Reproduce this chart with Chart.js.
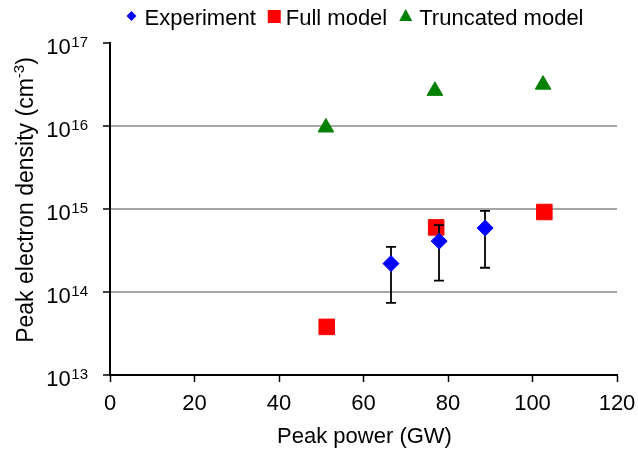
<!DOCTYPE html>
<html>
<head>
<meta charset="utf-8">
<script src="https://cdn.jsdelivr.net/npm/chart.js@4.4.0/dist/chart.umd.min.js"></script>
<style>
  html, body { margin: 0; padding: 0; background: #fff; }
</style>
</head>
<body>
<canvas id="densityChart" width="638" height="450"></canvas>
<script>
// values
const expPower = [66.5, 77.9, 88.8];
const expDensity = [2.2e14, 4.1e14, 5.9e14];
const expLow = [7.4e13, 1.37e14, 1.96e14];
const expHigh = [3.5e14, 6.4e14, 9.5e14];

const fullPower = [51.3, 77.2, 102.8];
const fullDensity = [3.8e13, 6.0e14, 9.2e14];

const truncPower = [51.1, 76.9, 102.5];
const truncDensity = [9.6e15, 2.65e16, 3.15e16];

const xTicks = [0, 20, 40, 60, 80, 100, 120];
const yExponents = [13, 14, 15, 16, 17];
const legendLabels = ["Experiment", "Full model", "Truncated model"];
const xTitle = "Peak power (GW)";

const FONT = "'Liberation Sans', Arial, sans-serif";

const toPoints = (xs, ys) => xs.map((v, i) => ({ x: v, y: ys[i] }));

const decor = {
  id: "decor",
  // error bars go between the model markers and the experiment diamonds
  afterDatasetDraw(chart, args) {
    if (args.index !== 1) return;
    const { ctx, scales: { x, y } } = chart;
    ctx.save();
    ctx.strokeStyle = "#000";
    ctx.lineWidth = 1.8;
    expPower.forEach((p, i) => {
      const px = Math.round(x.getPixelForValue(p));
      const top = y.getPixelForValue(expHigh[i]);
      const bot = y.getPixelForValue(expLow[i]);
      ctx.beginPath();
      ctx.moveTo(px, top); ctx.lineTo(px, bot);
      ctx.moveTo(px - 5, top); ctx.lineTo(px + 5, top);
      ctx.moveTo(px - 5, bot); ctx.lineTo(px + 5, bot);
      ctx.stroke();
    });
    ctx.restore();
  },
  afterDraw(chart) {
    const { ctx, chartArea, scales: { y } } = chart;
    ctx.save();
    ctx.fillStyle = "#000";
    ctx.textBaseline = "alphabetic";

    // y tick labels with superscript exponents
    yExponents.forEach((e) => {
      const py = y.getPixelForValue(Math.pow(10, e));
      ctx.font = "15px " + FONT;
      const sup = String(e);
      const supW = ctx.measureText(sup).width;
      const supX = 88 - supW;
      ctx.textAlign = "left";
      ctx.fillText(sup, supX, py + 4);
      ctx.font = "22px " + FONT;
      ctx.textAlign = "right";
      ctx.fillText("10", supX - 0.5, py + 11);
    });

    // x axis title
    ctx.font = "22px " + FONT;
    ctx.textAlign = "center";
    ctx.fillText(xTitle, (chartArea.left + chartArea.right) / 2 + 1, 443);

    // y axis title, rotated
    ctx.translate(33, 200);
    ctx.rotate(-Math.PI / 2);
    ctx.textAlign = "left";
    ctx.font = "23px " + FONT;
    const a = "Peak electron density (cm";
    const wa = ctx.measureText(a).width;
    ctx.font = "15px " + FONT;
    const s = "-3";
    const ws = ctx.measureText(s).width;
    ctx.font = "23px " + FONT;
    const wb = ctx.measureText(")").width;
    let tx = -(wa + ws + wb) / 2;
    ctx.fillText(a, tx, 0);
    tx += wa;
    ctx.font = "15px " + FONT;
    ctx.fillText(s, tx, -9);
    tx += ws;
    ctx.font = "23px " + FONT;
    ctx.fillText(")", tx, 0);
    ctx.setTransform(1, 0, 0, 1, 0, 0);

    // legend
    ctx.font = "22px " + FONT;
    const sets = chart.data.datasets;
    const markW = [10, 13, 13];
    const gapIn = [8, 5, 7];
    const gapOut = 12;
    let total = 0;
    legendLabels.forEach((t, i) => {
      total += markW[i] + gapIn[i] + ctx.measureText(t).width;
      if (i < legendLabels.length - 1) total += gapOut;
    });
    let lx = 355 - total / 2;
    const ly = 16;
    legendLabels.forEach((t, i) => {
      const cx = lx + markW[i] / 2;
      ctx.fillStyle = sets[i].backgroundColor;
      ctx.beginPath();
      if (i === 0) {
        ctx.moveTo(cx, ly - 5); ctx.lineTo(cx + 5, ly); ctx.lineTo(cx, ly + 5); ctx.lineTo(cx - 5, ly);
      } else if (i === 1) {
        ctx.rect(cx - 6.5, ly - 6, 13, 13);
      } else {
        ctx.moveTo(cx, ly - 7); ctx.lineTo(cx + 6.5, ly + 5); ctx.lineTo(cx - 6.5, ly + 5);
      }
      ctx.closePath();
      ctx.fill();
      lx += markW[i] + gapIn[i];
      ctx.fillStyle = "#000";
      ctx.textAlign = "left";
      ctx.fillText(t, lx, 25);
      lx += ctx.measureText(t).width + gapOut;
    });
    ctx.restore();
  }
};

const ctx = document.getElementById("densityChart").getContext("2d");

new Chart(ctx, {
  type: "scatter",
  data: {
    datasets: [
      {
        label: legendLabels[0],
        data: toPoints(expPower, expDensity),
        pointStyle: "rectRot",
        pointRadius: 8,
        backgroundColor: "#0000ff",
        borderColor: "#0000ff",
        borderWidth: 1,
      },
      {
        label: legendLabels[1],
        data: toPoints(fullPower, fullDensity),
        pointStyle: "rect",
        pointRadius: 11,
        backgroundColor: "#ff0000",
        borderColor: "#ff0000",
        borderWidth: 1,
      },
      {
        label: legendLabels[2],
        data: toPoints(truncPower, truncDensity),
        pointStyle: "triangle",
        pointRadius: 9,
        backgroundColor: "#008000",
        borderColor: "#008000",
        borderWidth: 1,
      },
    ],
  },
  options: {
    responsive: false,
    animation: false,
    devicePixelRatio: 1,
    layout: { padding: { top: 43, right: 21, left: 0, bottom: 0 } },
    plugins: {
      legend: { display: false },
      tooltip: { enabled: false },
    },
    scales: {
      x: {
        type: "linear",
        min: 0,
        max: 120,
        afterBuildTicks: (scale) => { scale.ticks = xTicks.map((v) => ({ value: v })); },
        afterFit: (scale) => {
          scale.height = 75;
          scale.paddingLeft = 0;
          scale.paddingRight = 0;
        },
        border: { color: "#000", width: 2 },
        grid: { drawOnChartArea: false, tickColor: "#000", tickLength: 7, tickWidth: 1.5 },
        ticks: { color: "#000", font: { family: FONT, size: 22 }, padding: 9 },
      },
      y: {
        type: "logarithmic",
        min: 1e13,
        max: 1e17,
        afterBuildTicks: (scale) => { scale.ticks = yExponents.map((e) => ({ value: Math.pow(10, e), major: true })); },
        afterFit: (scale) => { scale.width = 110; },
        border: { color: "#000", width: 2 },
        grid: {
          color: (c) => (c.tick && c.tick.value > 1e13 && c.tick.value < 1e17 ? "#a6a6a6" : "rgba(0,0,0,0)"),
          lineWidth: 2,
          tickColor: "#000",
          tickLength: 7,
          tickWidth: 1.5,
        },
        ticks: { display: false },
      },
    },
  },
  plugins: [decor],
});
</script>
</body>
</html>
